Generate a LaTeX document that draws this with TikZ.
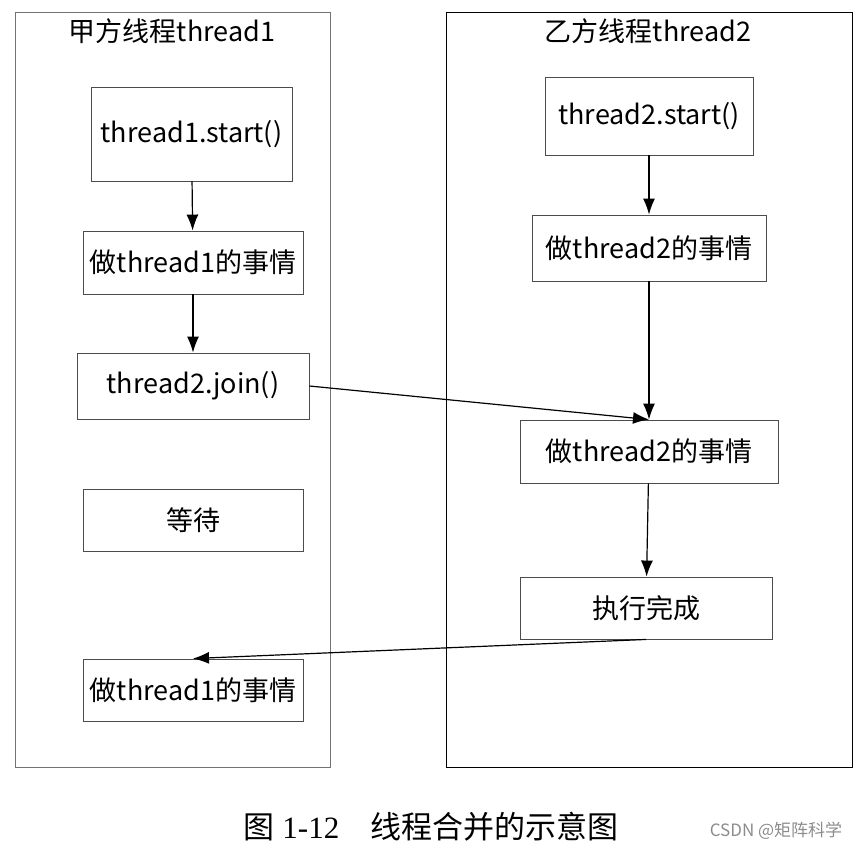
\documentclass[tikz,border=0pt]{standalone}
\usepackage{fontspec}
\setmainfont{Liberation Serif}
\setsansfont{Noto Sans CJK SC}
\newfontfamily\cjk{Noto Sans CJK SC}
\usetikzlibrary{arrows.meta}

\begin{document}
\begin{tikzpicture}[x=1pt, y=-1pt]
\tikzset{boite/.style={draw=black!70, line width=0.9pt, inner sep=0pt, font=\cjk\fontsize{27}{30}\selectfont},
  fleche/.style={line width=1.2pt, -{Latex[length=16pt, width=12pt]}}}
\useasboundingbox (0,0) rectangle (860,849);
\draw[black!55, line width=1pt] (15,12) rectangle (330,767);
\draw[line width=0.9pt] (446,12) rectangle (852,767);
\node[font=\cjk\fontsize{27}{30}\selectfont] (T1) at (172,31) {甲方线程thread1};
\node[font=\cjk\fontsize{27}{30}\selectfont] (T2) at (648,31) {乙方线程thread2};
\node[boite, minimum width=201pt, minimum height=94pt] (S1) at (191.5,134) {thread1.start()};
\node[boite, minimum width=220pt, minimum height=63pt] (W1) at (193,262.5) {做thread1的事情};
\node[boite, minimum width=232pt, minimum height=66pt] (J) at (193,386) {thread2.join()};
\node[boite, minimum width=220pt, minimum height=62pt] (A) at (193,520) {等待};
\node[boite, minimum width=220pt, minimum height=62pt] (W3) at (193,690) {做thread1的事情};
\node[boite, minimum width=208pt, minimum height=78pt] (S2) at (649,116) {thread2.start()};
\node[boite, minimum width=234pt, minimum height=66pt] (W2) at (649,248) {做thread2的事情};
\node[boite, minimum width=258pt, minimum height=63pt] (W4) at (649,451.5) {做thread2的事情};
\node[boite, minimum width=252pt, minimum height=62pt] (F) at (646,608) {执行完成};
\draw[fleche] (S1) -- (W1);
\draw[fleche] (W1) -- (J);
\draw[fleche] (S2) -- (W2);
\draw[fleche] (W2) -- (W4);
\draw[fleche] (J.east) -- (W4.north);
\draw[fleche] (W4) -- (F);
\draw[fleche] (F.south) -- (W3.north);
\node[font=\fontsize{31}{34}\selectfont] (C) at (431,827) {{\cjk 图} 1-12\hspace{1em}{\cjk 线程合并的示意图}};
\node[text=black!45, font=\cjk\fontsize{17}{20}\selectfont] (M) at (776,831) {CSDN @矩阵科学};
\end{tikzpicture}
\end{document}
